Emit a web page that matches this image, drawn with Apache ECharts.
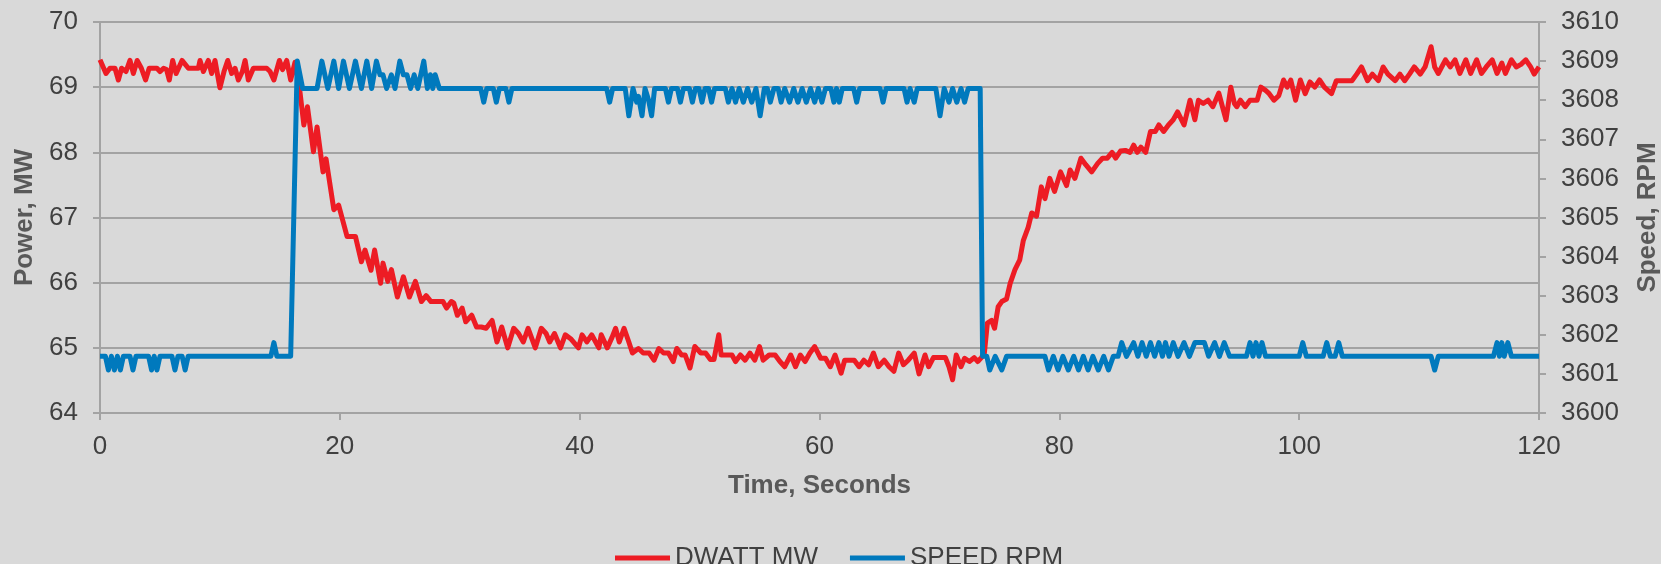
<!DOCTYPE html>
<html>
<head>
<meta charset="utf-8">
<script src="https://cdn.jsdelivr.net/npm/echarts@6/dist/echarts.min.js"></script>
<style>
  html, body { margin: 0; padding: 0; background: #d9d9d9; }
  #chart { width: 1661px; height: 564px; }
</style>
</head>
<body>
<div id="chart"></div>
<script>
// axis ranges
const timeRange = [0, 120, 20];
const powerRange = [64, 70, 1];
const speedRange = [3600, 3610, 1];
const seriesNames = ["DWATT MW", "SPEED RPM"];

// [seconds, MW]
const dwattMW = [
  [0,69.42],[0.5,69.21],[0.83,69.29],[1.25,69.29],[1.53,69.11],[1.8,69.29],[2.17,69.24],[2.5,69.41],
  [2.78,69.21],[3.1,69.41],[3.45,69.29],[3.8,69.11],[4.1,69.29],[4.75,69.29],[5.0,69.24],[5.3,69.29],
  [5.55,69.27],[5.78,69.11],[6.06,69.41],[6.35,69.21],[6.55,69.29],[6.84,69.41],[7.37,69.29],[8.2,69.29],
  [8.34,69.41],[8.62,69.24],[9.03,69.41],[9.31,69.21],[9.59,69.41],[10.0,68.99],[10.34,69.24],[10.65,69.41],
  [10.98,69.21],[11.26,69.29],[11.54,69.11],[11.87,69.24],[12.1,69.41],[12.37,69.11],[12.79,69.29],[13.9,69.29],
  [14.18,69.24],[14.5,69.11],[14.96,69.41],[15.23,69.27],[15.57,69.41],[15.9,69.11],[16.26,69.38],[16.63,69.0],
  [17.0,68.42],[17.3,68.7],[17.8,68.01],[18.1,68.39],[18.6,67.7],[18.85,67.9],[19.5,67.12],[19.9,67.19],
  [20.6,66.71],[21.3,66.71],[21.8,66.32],[22.1,66.5],[22.6,66.19],[22.9,66.5],[23.4,65.99],[23.6,66.3],
  [24.0,66.02],[24.3,66.2],[24.8,65.78],[25.3,66.09],[25.8,65.78],[26.3,66.02],[26.8,65.71],[27.2,65.8],
  [27.6,65.71],[28.6,65.71],[28.9,65.61],[29.3,65.71],[29.5,65.69],[29.8,65.5],[30.2,65.61],[30.5,65.4],
  [31.0,65.5],[31.4,65.32],[31.8,65.32],[32.2,65.3],[32.7,65.42],[33.1,65.09],[33.5,65.32],[34.0,65.0],
  [34.5,65.3],[34.9,65.22],[35.3,65.09],[35.7,65.3],[36.3,65.0],[36.8,65.3],[37.2,65.22],[37.5,65.09],
  [37.9,65.22],[38.4,65.0],[38.8,65.2],[39.3,65.13],[39.9,65.0],[40.2,65.2],[40.6,65.09],[41.0,65.2],
  [41.6,65.0],[41.8,65.2],[42.3,65.0],[42.7,65.16],[43.0,65.3],[43.3,65.09],[43.7,65.3],[44.1,65.09],
  [44.4,64.92],[44.9,64.99],[45.3,64.92],[45.8,64.92],[46.2,64.81],[46.6,64.99],[47.0,64.92],[47.4,64.92],
  [47.8,64.79],[48.1,64.99],[48.5,64.89],[48.8,64.89],[49.2,64.69],[49.6,65.02],[50.1,64.92],[50.5,64.92],
  [50.9,64.82],[51.2,64.82],[51.6,65.2],[51.8,64.89],[52.7,64.89],[53.0,64.79],[53.4,64.89],[53.8,64.81],
  [54.2,64.92],[54.6,64.81],[55.0,65.02],[55.3,64.81],[55.8,64.89],[56.3,64.89],[56.7,64.79],[57.1,64.71],
  [57.6,64.89],[58.0,64.71],[58.4,64.89],[58.8,64.79],[59.2,64.92],[59.6,65.02],[60.1,64.84],[60.5,64.84],
  [60.9,64.71],[61.3,64.89],[61.8,64.61],[62.1,64.81],[62.9,64.81],[63.3,64.71],[63.7,64.81],[64.1,64.74],
  [64.5,64.92],[64.9,64.71],[65.4,64.81],[65.8,64.71],[66.2,64.64],[66.6,64.92],[67.0,64.74],[67.4,64.81],
  [67.9,64.92],[68.3,64.6],[68.8,64.89],[69.1,64.71],[69.5,64.85],[70.5,64.85],[70.8,64.71],[71.1,64.51],
  [71.4,64.89],[71.8,64.71],[72.1,64.84],[72.5,64.79],[72.9,64.85],[73.2,64.79],[73.5,64.85],[73.75,64.92],
  [74.0,65.38],[74.35,65.42],[74.6,65.3],[74.9,65.63],[75.2,65.71],[75.6,65.75],[75.9,65.99],[76.3,66.2],
  [76.7,66.35],[77.0,66.65],[77.4,66.85],[77.7,67.07],[78.1,67.02],[78.5,67.47],[78.8,67.29],[79.2,67.6],
  [79.6,67.4],[80.1,67.7],[80.6,67.49],[80.9,67.73],[81.3,67.6],[81.8,67.91],[82.2,67.81],[82.7,67.7],
  [83.2,67.83],[83.6,67.91],[84.0,67.91],[84.4,68.0],[84.7,67.91],[85.1,68.02],[85.5,68.03],[85.9,68.0],
  [86.2,68.11],[86.5,68.0],[86.8,68.08],[87.2,68.0],[87.6,68.32],[88.0,68.32],[88.3,68.42],[88.7,68.32],
  [89.1,68.42],[89.5,68.5],[89.86,68.62],[90.4,68.42],[90.9,68.8],[91.3,68.5],[91.6,68.8],[92.0,68.75],
  [92.4,68.8],[92.8,68.7],[93.3,68.91],[93.6,68.7],[93.9,68.5],[94.3,69.0],[94.6,68.75],[94.8,68.7],
  [95.1,68.8],[95.5,68.7],[95.9,68.8],[96.5,68.8],[96.8,69.0],[97.2,68.95],[97.5,68.9],[97.9,68.8],
  [98.3,68.87],[98.7,69.11],[99.0,69.0],[99.3,69.11],[99.7,68.8],[100.1,69.11],[100.5,68.9],[100.9,69.08],
  [101.3,69.0],[101.7,69.11],[102.1,69.0],[102.7,68.9],[103.1,69.1],[104.4,69.1],[104.8,69.2],[105.2,69.31],
  [105.7,69.1],[106.1,69.2],[106.6,69.1],[107.0,69.31],[107.4,69.2],[108.0,69.1],[108.4,69.2],[108.8,69.1],
  [109.2,69.2],[109.6,69.31],[110.1,69.2],[110.5,69.31],[111.0,69.62],[111.3,69.31],[111.6,69.21],[112.2,69.42],
  [112.6,69.31],[113.0,69.42],[113.4,69.21],[113.9,69.42],[114.3,69.21],[114.8,69.42],[115.2,69.21],[115.6,69.31],
  [116.1,69.42],[116.5,69.21],[116.9,69.37],[117.2,69.21],[117.7,69.42],[118.1,69.31],[118.5,69.35],[118.9,69.42],
  [119.3,69.31],[119.6,69.2],[120,69.31]
];

// [seconds, RPM]
const speedRPM = [
  [0,3601.45],[0.45,3601.45],[0.7,3601.1],[0.95,3601.45],[1.2,3601.1],[1.45,3601.45],[1.7,3601.1],[1.95,3601.45],
  [2.5,3601.45],[2.75,3601.1],[3.0,3601.45],[4.05,3601.45],[4.3,3601.1],[4.52,3601.45],[4.75,3601.1],[5.0,3601.45],
  [6.0,3601.45],[6.25,3601.1],[6.5,3601.45],[6.85,3601.45],[7.1,3601.1],[7.35,3601.45],[14.25,3601.45],[14.5,3601.8],
  [14.75,3601.45],[15.9,3601.45],[16.45,3609.0],[16.9,3608.3],[18.1,3608.3],[18.5,3609.0],[19.0,3608.3],[19.5,3609.0],
  [19.9,3608.3],[20.3,3609.0],[20.8,3608.3],[21.3,3609.0],[21.8,3608.3],[22.25,3609.0],[22.65,3608.3],[23.05,3609.0],
  [23.35,3608.65],[23.6,3608.65],[23.9,3608.3],[24.3,3608.65],[24.6,3608.3],[25.0,3609.0],[25.3,3608.65],[25.6,3608.65],
  [25.9,3608.3],[26.2,3608.65],[26.5,3608.3],[27.0,3609.0],[27.3,3608.3],[27.55,3608.65],[27.75,3608.3],[27.95,3608.65],
  [28.3,3608.3],[31.75,3608.3],[32.0,3607.95],[32.25,3608.3],[32.8,3608.3],[33.05,3607.95],[33.3,3608.3],[33.85,3608.3],
  [34.1,3607.95],[34.35,3608.3],[42.25,3608.3],[42.5,3607.95],[42.75,3608.3],[43.8,3608.3],[44.1,3607.6],[44.45,3608.3],
  [44.75,3607.95],[44.9,3608.1],[45.2,3607.6],[45.45,3608.3],[45.75,3608.0],[46.0,3607.6],[46.25,3608.3],[47.15,3608.3],
  [47.4,3607.95],[47.65,3608.3],[48.15,3608.3],[48.4,3607.95],[48.65,3608.3],[49.15,3608.3],[49.4,3607.95],[49.65,3608.3],
  [49.95,3608.3],[50.2,3607.95],[50.45,3608.3],[50.75,3608.3],[51.0,3607.95],[51.25,3608.3],[52.15,3608.3],[52.4,3607.95],
  [52.7,3608.3],[53.0,3607.95],[53.3,3608.3],[53.65,3607.95],[54.0,3608.3],[54.35,3607.95],[54.7,3608.3],[55.05,3607.6],
  [55.4,3608.3],[55.65,3608.3],[55.9,3607.95],[56.2,3608.3],[56.55,3608.3],[56.8,3607.95],[57.1,3608.3],[57.5,3607.95],
  [57.85,3608.3],[58.2,3607.95],[58.55,3608.3],[58.9,3607.95],[59.25,3608.3],[59.6,3607.95],[59.9,3608.3],[60.2,3607.95],
  [60.5,3608.3],[60.95,3608.3],[61.2,3607.95],[61.42,3608.3],[61.65,3607.95],[61.9,3608.3],[62.85,3608.3],[63.1,3607.95],
  [63.35,3608.3],[65.05,3608.3],[65.3,3607.95],[65.55,3608.3],[67.05,3608.3],[67.3,3607.95],[67.55,3608.3],[67.65,3608.3],
  [67.9,3607.95],[68.15,3608.3],[69.7,3608.3],[70.05,3607.6],[70.4,3608.3],[70.55,3608.3],[70.8,3607.95],[71.1,3608.3],
  [71.45,3607.95],[71.8,3608.3],[72.1,3607.95],[72.4,3608.3],[73.4,3608.3],[73.6,3601.45],[73.95,3601.45],[74.2,3601.1],
  [74.65,3601.45],[75.2,3601.1],[75.6,3601.45],[78.8,3601.45],[79.1,3601.1],[79.5,3601.45],[79.9,3601.1],[80.3,3601.45],
  [80.75,3601.1],[81.2,3601.45],[81.6,3601.1],[82.0,3601.45],[82.4,3601.1],[82.8,3601.45],[83.25,3601.1],[83.7,3601.45],
  [84.1,3601.1],[84.5,3601.45],[84.9,3601.45],[85.2,3601.8],[85.6,3601.45],[86.2,3601.8],[86.55,3601.45],[86.9,3601.8],
  [87.25,3601.45],[87.6,3601.8],[87.95,3601.45],[88.3,3601.8],[88.6,3601.45],[88.85,3601.8],[89.15,3601.45],[89.5,3601.8],
  [89.9,3601.45],[90.4,3601.8],[90.85,3601.45],[91.3,3601.8],[92.1,3601.8],[92.45,3601.45],[92.95,3601.8],[93.35,3601.45],
  [93.75,3601.8],[94.2,3601.45],[95.6,3601.45],[95.9,3601.8],[96.15,3601.45],[96.4,3601.8],[96.65,3601.45],[96.9,3601.8],
  [97.2,3601.45],[100.0,3601.45],[100.3,3601.8],[100.6,3601.45],[102.0,3601.45],[102.3,3601.8],[102.6,3601.45],[103.0,3601.45],
  [103.3,3601.8],[103.6,3601.45],[111.0,3601.45],[111.3,3601.1],[111.6,3601.45],[116.2,3601.45],[116.5,3601.8],[116.7,3601.45],
  [116.9,3601.8],[117.1,3601.45],[117.4,3601.8],[117.7,3601.45],[120,3601.45]
];

const RED = "#ed1c24";
const BLUE = "#0079bd";
const GRID = "#a3a3a3";
const TEXT = "#404040";
const FONT = '"Liberation Sans", Arial, sans-serif';

const axisLine = { show: true, lineStyle: { color: GRID, width: 2 } };
const axisTick = { show: true, length: 7, lineStyle: { color: GRID, width: 2 } };
const nameStyle = { fontSize: 26, fontWeight: "bold", color: "#595959", fontFamily: FONT };

const chart = echarts.init(document.getElementById("chart"), null, { renderer: "canvas" });

chart.setOption({
  animation: false,
  backgroundColor: "#d9d9d9",
  textStyle: { fontFamily: FONT },
  grid: { left: 100, right: 122, top: 22, bottom: 151, containLabel: false, outerBoundsMode: "none" },
  legend: {
    top: 540,
    left: 610,
    icon: "rect",
    itemWidth: 55,
    itemHeight: 5,
    itemGap: 32,
    textStyle: { fontSize: 26, color: TEXT, fontFamily: FONT },
    data: seriesNames
  },
  xAxis: {
    type: "value",
    min: timeRange[0],
    max: timeRange[1],
    interval: timeRange[2],
    name: "Time, Seconds",
    nameLocation: "middle",
    nameGap: 60,
    nameTextStyle: nameStyle,
    axisLine: axisLine,
    axisTick: axisTick,
    axisLabel: { fontSize: 26, color: TEXT, margin: 21 },
    splitLine: { show: false }
  },
  yAxis: [
    {
      type: "value",
      position: "left",
      min: powerRange[0],
      max: powerRange[1],
      interval: powerRange[2],
      name: "Power, MW",
      nameLocation: "middle",
      nameRotate: 90,
      nameGap: 60,
      nameTextStyle: nameStyle,
      axisLine: axisLine,
      axisTick: axisTick,
      axisLabel: { fontSize: 26, color: TEXT, margin: 22 },
      splitLine: { show: true, lineStyle: { color: GRID, width: 2 } }
    },
    {
      type: "value",
      position: "right",
      min: speedRange[0],
      max: speedRange[1],
      interval: speedRange[2],
      name: "Speed, RPM",
      nameLocation: "middle",
      nameRotate: 90,
      nameGap: 96,
      nameTextStyle: nameStyle,
      axisLine: axisLine,
      axisTick: axisTick,
      axisLabel: { fontSize: 26, color: TEXT, margin: 22, formatter: v => String(v) },
      splitLine: { show: false }
    }
  ],
  series: [
    {
      name: seriesNames[0],
      type: "line",
      yAxisIndex: 0,
      data: dwattMW,
      showSymbol: false,
      color: RED,
      lineStyle: { color: RED, width: 5, join: "round" }
    },
    {
      name: seriesNames[1],
      type: "line",
      yAxisIndex: 1,
      data: speedRPM,
      showSymbol: false,
      color: BLUE,
      lineStyle: { color: BLUE, width: 5, join: "round" }
    }
  ]
});
</script>
</body>
</html>
